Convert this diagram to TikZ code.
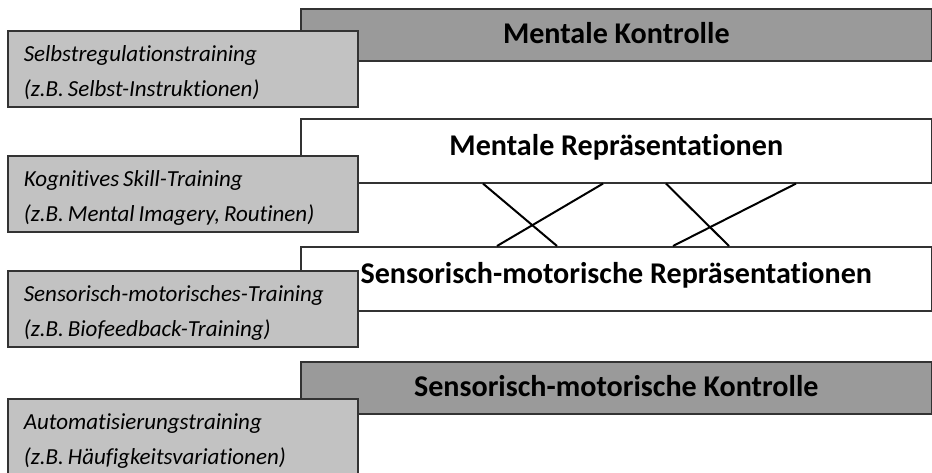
\documentclass[tikz,border=0pt]{standalone}
\usepackage{fontspec}
\setmainfont[Ligatures=NoCommon]{Carlito}
\usetikzlibrary{positioning}
\definecolor{ctrlgray}{HTML}{9A9A9A}
\definecolor{traingray}{HTML}{C2C2C2}
\definecolor{edge}{HTML}{333333}
\newcommand\trainsetup{\spaceskip=4pt plus 1pt\relax\rule{0pt}{24pt}}

\begin{document}
\begin{tikzpicture}[x=1pt, y=-1pt,
  level/.style={draw=edge, line width=1.6pt, anchor=north west, minimum width=631pt, inner sep=0pt, font=\fontsize{30.1}{32}\selectfont\bfseries},
  ctrl/.style={level, fill=ctrlgray, minimum height=52pt, text depth=3pt},
  repr/.style={level, fill=white, minimum height=64pt, text depth=12pt},
  train/.style={draw=edge, line width=1.6pt, fill=traingray, anchor=north west, minimum width=350pt, minimum height=76pt, inner xsep=16pt, text width=318pt, align=left,
    font=\fontsize{23}{35}\selectfont\itshape, execute at begin node=\trainsetup},
  link/.style={line width=2pt, draw=black}
]
\useasboundingbox (0,0) rectangle (932,473);

% levels (right)
\node[ctrl] (mk) at (300,8) {Mentale Kontrolle};
\node[repr] (mr) at (300,118) {Mentale Repräsentationen};
\node[repr] (sr) at (300,246) {Sensorisch-motorische Repräsentationen};
\node[ctrl] (sk) at (300,361) {Sensorisch-motorische Kontrolle};

% crossings between the representations
\foreach \a/\b in {183/257, 303/197, 366/429, 496/373}
  \draw[link] ([xshift=\a pt]mr.south west) -- ([xshift=\b pt]sr.north west);

% trainings (left)
\node[train] (selbst) at (7,30) {Selbstregulationstraining\\(z.B. Selbst-Instruktionen)};
\node[train] (kogn) at (7,155) {Kognitives Skill-Training\\(z.B. Mental Imagery, Routinen)};
\node[train] (senso) at (7,270) {Sensorisch-motorisches-Training\\(z.B. Biofeedback-Training)};
\node[train] (auto) at (7,398) {Automatisierungstraining\\(z.B. Häufigkeitsvariationen)};
\end{tikzpicture}
\end{document}
